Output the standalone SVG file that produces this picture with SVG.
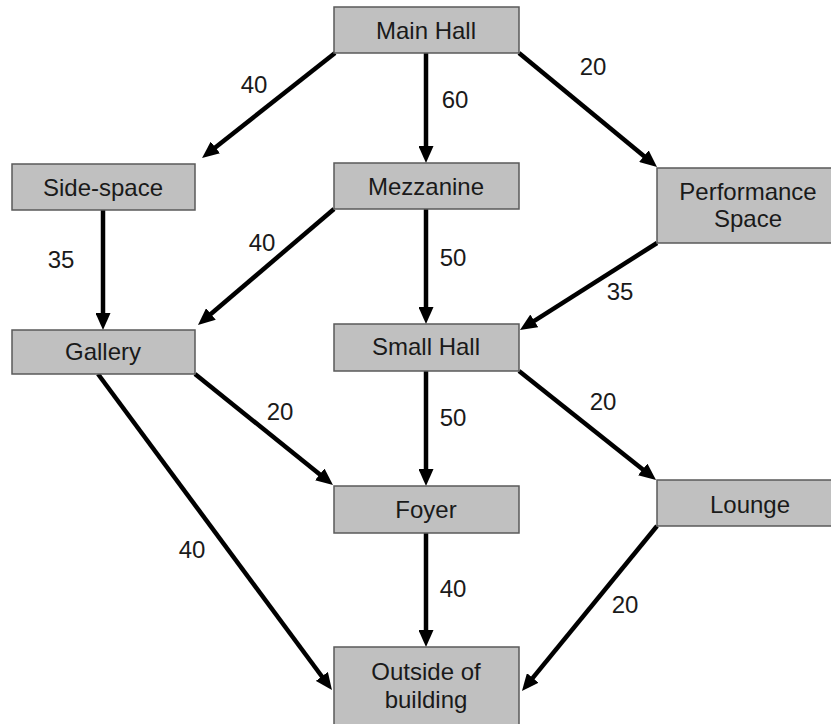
<svg xmlns="http://www.w3.org/2000/svg" width="831" height="724" viewBox="0 0 831 724">
<style>
.box{fill:#c0c0c0;stroke:#5a5a5a;stroke-width:1.5}
.t{font-family:"Liberation Sans",Arial,sans-serif;font-size:24px;fill:#1a1a1a;text-anchor:middle}
.c{stroke:#000;stroke-width:4.5;fill:none;marker-end:url(#ah)}
</style>
<defs>
<marker id="ah" markerUnits="userSpaceOnUse" markerWidth="17" markerHeight="15" viewBox="0 0 17 15" refX="7" refY="7.5" orient="auto">
<path d="M0,0 L17,7.5 L0,15 z" fill="#000"/>
</marker>
</defs>
<rect width="831" height="724" fill="#fff"/>
<g id="connectors">
<line class="c" x1="335" y1="53" x2="209.9" y2="151.8"/>
<line class="c" x1="426" y1="53" x2="426" y2="153"/>
<line class="c" x1="519" y1="53" x2="649.3" y2="160.6"/>
<line class="c" x1="103" y1="210" x2="103" y2="320"/>
<line class="c" x1="334" y1="209" x2="205.6" y2="318.5"/>
<line class="c" x1="426" y1="209" x2="426" y2="314"/>
<line class="c" x1="657" y1="243" x2="528.4" y2="324.6"/>
<line class="c" x1="195" y1="374" x2="325.2" y2="478.7"/>
<line class="c" x1="98" y1="374" x2="326" y2="682"/>
<line class="c" x1="426" y1="371" x2="426" y2="476"/>
<line class="c" x1="519" y1="371" x2="648.2" y2="473.8"/>
<line class="c" x1="426" y1="533" x2="426" y2="637"/>
<line class="c" x1="657" y1="526" x2="528.3" y2="683.3"/>
<text class="t" x="254" y="93">40</text>
<text class="t" x="455" y="108">60</text>
<text class="t" x="593" y="75">20</text>
<text class="t" x="61" y="268">35</text>
<text class="t" x="262" y="251">40</text>
<text class="t" x="453" y="266">50</text>
<text class="t" x="620" y="300">35</text>
<text class="t" x="280" y="420">20</text>
<text class="t" x="453" y="426">50</text>
<text class="t" x="603" y="410">20</text>
<text class="t" x="192" y="558">40</text>
<text class="t" x="453" y="597">40</text>
<text class="t" x="625" y="613">20</text>
</g>
<g id="main-hall"><rect class="box" x="334" y="7" width="185" height="46"/><text class="t" x="426" y="39">Main Hall</text></g>
<g id="side-space"><rect class="box" x="12" y="164" width="183" height="46"/><text class="t" x="103" y="196">Side-space</text></g>
<g id="mezzanine"><rect class="box" x="334" y="163" width="185" height="46"/><text class="t" x="426" y="195">Mezzanine</text></g>
<g id="performance-space"><rect class="box" x="657" y="168" width="186" height="75"/><text class="t" x="748" y="200">Performance</text><text class="t" x="748" y="227">Space</text></g>
<g id="gallery"><rect class="box" x="12" y="330" width="183" height="44"/><text class="t" x="103" y="360">Gallery</text></g>
<g id="small-hall"><rect class="box" x="334" y="324" width="185" height="47"/><text class="t" x="426" y="355">Small Hall</text></g>
<g id="foyer"><rect class="box" x="334" y="486" width="185" height="47"/><text class="t" x="426" y="518">Foyer</text></g>
<g id="lounge"><rect class="box" x="657" y="480" width="186" height="46"/><text class="t" x="750" y="513">Lounge</text></g>
<g id="outside"><rect class="box" x="334" y="647" width="185" height="80"/><text class="t" x="426" y="680">Outside of</text><text class="t" x="426" y="708">building</text></g>
</svg>
